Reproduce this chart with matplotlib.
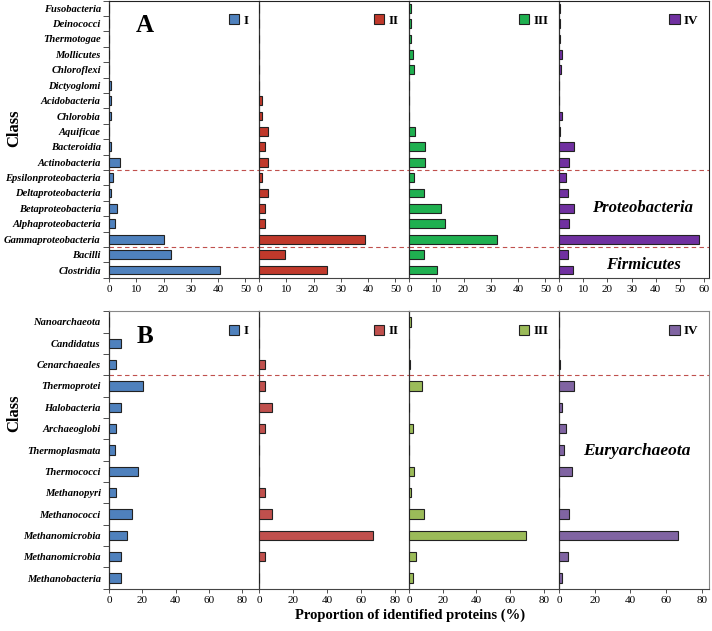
import numpy as np
import matplotlib.pyplot as plt
from matplotlib.font_manager import FontProperties

# ---- data ----
bact_classes = ['Fusobacteria', 'Deinococci', 'Thermotogae', 'Mollicutes', 'Chloroflexi',
                'Dictyoglomi', 'Acidobacteria', 'Chlorobia', 'Aquificae', 'Bacteroidia',
                'Actinobacteria', 'Epsilonproteobacteria', 'Deltaproteobacteria',
                'Betaproteobacteria', 'Alphaproteobacteria', 'Gammaproteobacteria',
                'Bacilli', 'Clostridia']
bact_I = [0, 0, 0, 0, 0, 0.8, 0.8, 0.8, 0, 0.8, 4.1, 1.4, 0.9, 2.8, 2.2, 20.1, 22.8, 40.6]
bact_II = [0, 0, 0, 0, 0, 0, 1.2, 1.2, 3.3, 2.1, 3.3, 1.2, 3.3, 2.1, 2.1, 38.7, 9.7, 24.8]
bact_III = [0.6, 0.6, 0.6, 1.5, 1.8, 0, 0, 0, 2.2, 5.8, 5.8, 1.8, 5.5, 11.9, 13.2, 32.1, 5.5, 10.2]
bact_IV = [0.4, 0.4, 0.4, 1.4, 0.7, 0, 0, 1.4, 0.4, 6.3, 4.3, 2.8, 3.9, 6.3, 4.1, 57.8, 3.9, 5.7]

arch_classes = ['Nanoarchaeota', 'Candidatus', 'Cenarchaeales', 'Thermoprotei', 'Halobacteria',
                'Archaeoglobi', 'Thermoplasmata', 'Thermococci', 'Methanopyri',
                'Methanococci', 'Methanomicrobia', 'Methanomicrobia', 'Methanobacteria']
arch_I = [0, 7.3, 4.0, 20.6, 7.3, 4.0, 3.6, 17.2, 4.0, 13.9, 10.5, 7.3, 7.3]
arch_II = [0, 0, 3.7, 3.7, 7.8, 3.7, 0, 0, 3.7, 7.8, 67.0, 3.7, 0]
arch_III = [1.2, 0, 0.6, 7.9, 0, 2.4, 0, 3.0, 1.2, 9.1, 69.3, 4.2, 2.4]
arch_IV = [0, 0, 0.8, 8.4, 1.9, 4.1, 3.0, 7.1, 0, 5.6, 66.8, 5.3, 1.7]

groups = ['I', 'II', 'III', 'IV']
top_colors = ['#4f81bd', '#c0392b', '#1fb050', '#7030a0']
bot_colors = ['#4f81bd', '#c0504d', '#9bbb59', '#8064a2']

serif = 'Liberation Serif'
W, H = 712, 631
fig = plt.figure(figsize=(W / 100, H / 100), dpi=100)


def panel(top_px, bot_px, classes, series, colors, xlims, xticks, dashes,
          frame_col, bar_h):
    n = len(classes)
    y = np.arange(n)
    lefts = [109, 259, 409, 559]
    axes = []
    for i, (vals, col, xl, xt) in enumerate(zip(series, colors, xlims, xticks)):
        ax = fig.add_axes([lefts[i] / W, 1 - bot_px / H, 150 / W, (bot_px - top_px) / H])
        ax.barh(y, vals, height=bar_h, color=col, edgecolor='#222222', linewidth=0.8,
                label=groups[i], zorder=3)
        ax.set_ylim(n - 0.5, -0.5)
        ax.set_xlim(0, xl)
        ax.set_xticks(xt)
        ax.tick_params(axis='x', length=3, width=0.6, direction='out', pad=2,
                       colors='#333333', labelcolor='black')
        for lab in ax.get_xticklabels():
            lab.set_fontfamily(serif)
            lab.set_fontsize(8)
        for yy in dashes:
            ax.axhline(yy, color='#c0504d', linestyle=(0, (4, 3)), linewidth=0.8, zorder=2)
        for side in ['top', 'right']:
            ax.spines[side].set_color(frame_col)
            ax.spines[side].set_linewidth(0.8)
        ax.spines['bottom'].set_color('#444444')
        ax.spines['bottom'].set_linewidth(0.8)
        ax.spines['left'].set_color('#333333')
        ax.spines['left'].set_linewidth(0.9)
        if i < 3:
            ax.spines['right'].set_visible(False)
        if i == 0:
            ax.set_yticks(y)
            ax.set_yticklabels(classes, fontfamily=serif, fontweight='bold',
                               fontstyle='italic', fontsize=7.6)
            ax.set_yticks(np.arange(n + 1) - 0.5, minor=True)
            ax.tick_params(axis='y', which='major', length=0, pad=6)
            ax.tick_params(axis='y', which='minor', length=4, width=0.6, direction='out',
                           colors='#333333')
        else:
            ax.set_yticks([])
        ax.legend(loc='upper right', bbox_to_anchor=(0.99, 0.985), frameon=False,
                  handlelength=0.8, handleheight=0.8, handletextpad=0.3, borderpad=0.2,
                  prop=FontProperties(family=serif, weight='bold', size=9.5))
        axes.append(ax)
    return axes


top_axes = panel(0.5, 277.7, bact_classes, [bact_I, bact_II, bact_III, bact_IV], top_colors,
                 [55, 55, 55, 62], [range(0, 51, 10)] * 3 + [range(0, 61, 10)],
                 [10.5, 15.5], '#222222', 0.58)
bot_axes = panel(311.3, 588.7, arch_classes, [arch_I, arch_II, arch_III, arch_IV], bot_colors,
                 [90, 88, 89, 84], [range(0, 81, 20)] * 4,
                 [2.5], '#888888', 0.43)

top_axes[0].text(0.24, 0.91, 'A', transform=top_axes[0].transAxes, fontfamily=serif,
                 fontweight='bold', fontsize=18, ha='center', va='center')
bot_axes[0].text(0.24, 0.91, 'B', transform=bot_axes[0].transAxes, fontfamily=serif,
                 fontweight='bold', fontsize=18, ha='center', va='center')

top_axes[3].text(0.56, 13.0, 'Proteobacteria', fontfamily=serif, fontweight='bold',
                 fontstyle='italic', fontsize=12, ha='center', va='center',
                 transform=top_axes[3].get_yaxis_transform(), zorder=5)
top_axes[3].text(0.56, 16.65, 'Firmicutes', fontfamily=serif, fontweight='bold',
                 fontstyle='italic', fontsize=12, ha='center', va='center',
                 transform=top_axes[3].get_yaxis_transform(), zorder=5)
bot_axes[3].text(0.52, 6.05, 'Euryarchaeota', fontfamily=serif, fontweight='bold',
                 fontstyle='italic', fontsize=12.5, ha='center', va='center',
                 transform=bot_axes[3].get_yaxis_transform(), zorder=5)

fig.text(14 / W, 1 - 128 / H, 'Class', rotation=90, fontfamily=serif, fontweight='bold',
         fontsize=12, ha='center', va='center')
fig.text(14 / W, 1 - 413 / H, 'Class', rotation=90, fontfamily=serif, fontweight='bold',
         fontsize=12, ha='center', va='center')
fig.text(410 / W, 1 - 615 / H, 'Proportion of identified proteins (%)', fontfamily=serif,
         fontweight='bold', fontsize=10.5, ha='center', va='center')

fig.savefig('out.png', dpi=100)
